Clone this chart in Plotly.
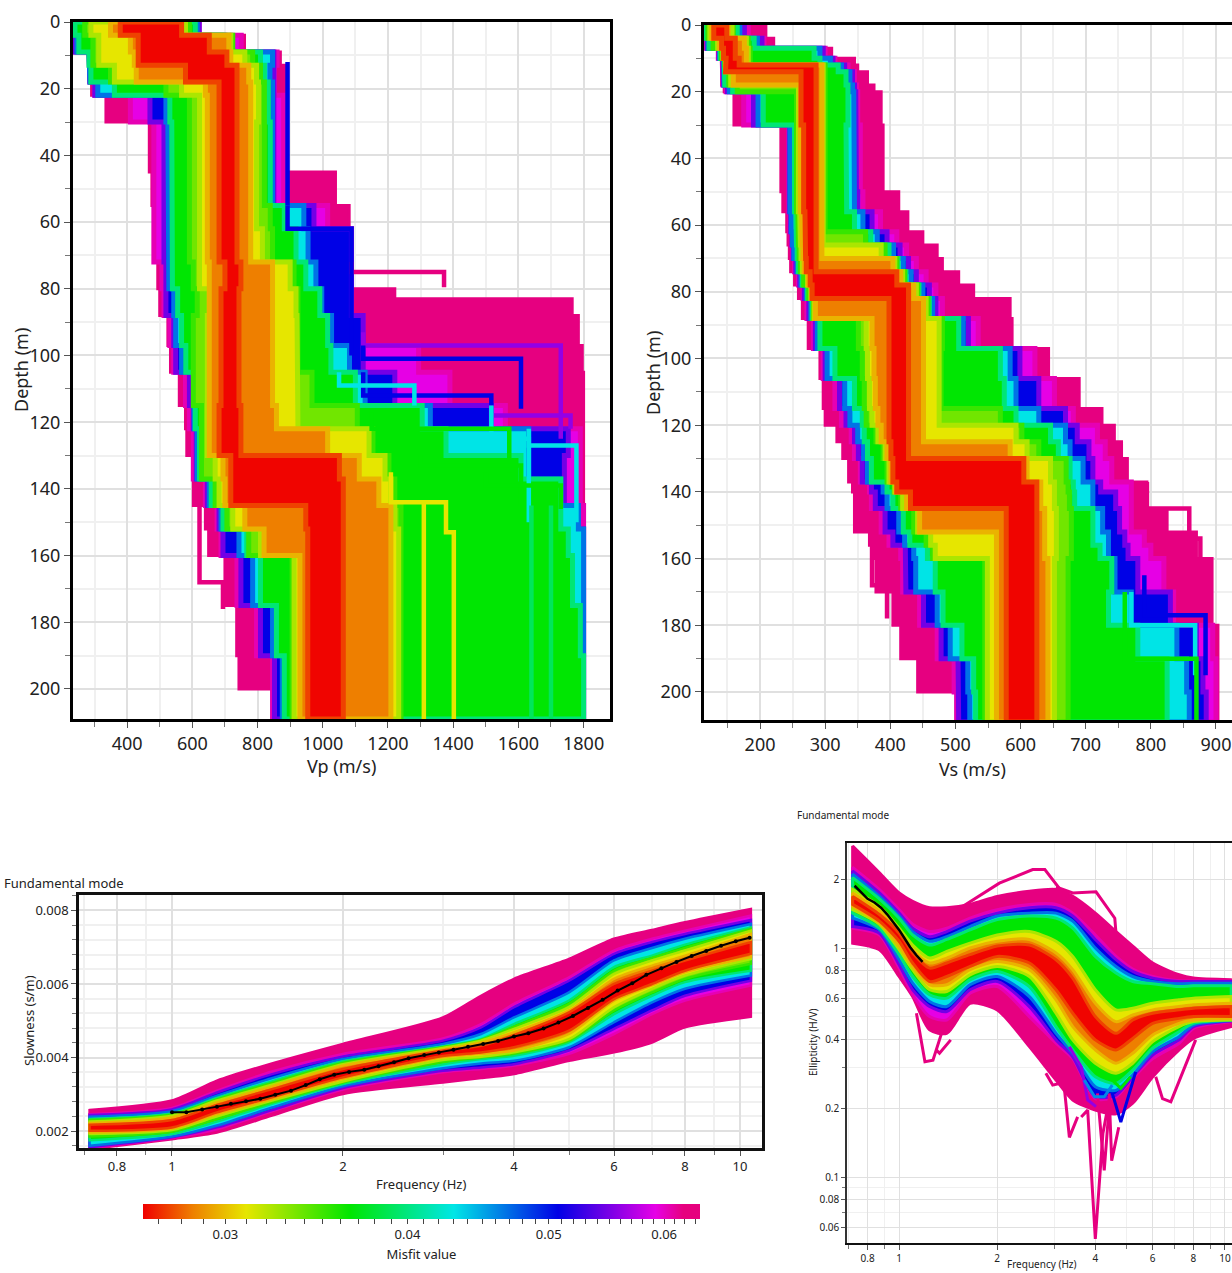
import math
import plotly.graph_objects as go

W, H = 1232, 1273
FONT = "Noto Sans"
BANDS = ["PINK", "MAG", "BLUE", "CYAN", "GREEN", "YG", "YELLOW", "ORANGE", "RED"]

# Misfit value carried by each colour band
BAND_MISFIT = {"PINK": 0.0618, "MAG": 0.0592, "BLUE": 0.0507, "CYAN": 0.0431, "GREEN": 0.0366,
               "YG": 0.0337, "YELLOW": 0.0310, "ORANGE": 0.0285, "RED": 0.0264}
MISFIT_LO, MISFIT_HI = 0.02634, 0.0635
MISFIT_TICKS = [0.03, 0.04, 0.05, 0.06]
COLOR_STOPS = [[0.0, "#f00000"], [0.09, "#ee8000"], [0.185, "#e6e600"], [0.372, "#00e600"],
               [0.558, "#00e6e6"], [0.745, "#0000e6"], [0.92, "#e600e6"], [0.97, "#e6007e"], [1.0, "#e6007e"]]

# ---------- Vp (m/s) envelope of each misfit band, per depth interval ----------
VP_DEPTH = [0, 4, 9, 13, 18, 22, 30, 45, 55, 62, 72, 80, 88, 97, 105, 115, 122, 130, 137, 145, 152, 160, 175, 190, 200, 209]
VP_L_PINK = [240, 250, 283, 283, 291, 335, 468, 476, 482, 485, 494, 500, 525, 533, 560, 579, 583, 603, 603, 640, 650, 700, 736, 743, 845]
VP_L_MAG = [236, 240, 283, 286, 301, 410, 482, 482, 482, 482, 507, 513, 531, 543, 579, 591, 603, 603, 640, 676, 688, 737, 797, 846, 846]
VP_L_BLUE = [236, 240, 283, 286, 301, 470, 513, 513, 513, 513, 519, 519, 543, 549, 591, 603, 612, 612, 646, 682, 694, 749, 809, 852, 852]
VP_L_CYAN = [238, 246, 283, 286, 310, 519, 525, 525, 525, 525, 528, 543, 549, 567, 603, 606, 615, 615, 652, 688, 743, 785, 846, 876, 876]
VP_L_GREEN = [240, 252, 283, 289, 361, 531, 537, 537, 537, 537, 539, 555, 567, 580, 609, 609, 622, 622, 658, 694, 767, 809, 858, 882, 882]
VP_L_YG = [270, 295, 295, 349, 519, 591, 591, 591, 591, 591, 603, 615, 603, 603, 603, 628, 628, 628, 670, 706, 773, 906, 906, 906, 906]
VP_L_YELLOW = [289, 313, 313, 361, 567, 622, 622, 622, 622, 622, 622, 652, 646, 646, 646, 646, 646, 670, 682, 724, 809, 912, 912, 912, 912]
VP_L_ORANGE = [349, 410, 422, 428, 640, 646, 646, 646, 646, 646, 652, 652, 652, 652, 652, 652, 652, 694, 700, 761, 820, 930, 930, 930, 930]
VP_L_RED = [379, 434, 434, 579, 682, 682, 682, 682, 682, 682, 700, 688, 688, 688, 688, 682, 682, 718, 718, 948, 954, 954, 954, 954, 954]
VP_R_RED = [567, 652, 706, 737, 734, 737, 737, 737, 737, 737, 749, 743, 743, 743, 743, 749, 749, 1051, 1063, 1063, 1063, 1063, 1063, 1063, 1063]
VP_R_ORANGE = [567, 712, 718, 773, 779, 779, 779, 779, 779, 779, 846, 846, 846, 846, 846, 858, 1015, 1112, 1172, 1209, 1209, 1209, 1209, 1209, 1209]
VP_R_YELLOW = [579, 718, 761, 797, 803, 803, 797, 797, 797, 815, 900, 918, 921, 921, 921, 924, 1142, 1191, 1209, 1221, 1233, 1233, 1233, 1233, 1233]
VP_R_YG = [591, 724, 785, 809, 821, 821, 821, 821, 839, 846, 912, 924, 924, 924, 967, 1106, 1154, 1203, 1221, 1240, 1240, 1240, 1240, 1240, 1240]
VP_R_GREEN = [609, 688, 809, 821, 833, 833, 839, 839, 882, 918, 948, 991, 1015, 1025, 1100, 1305, 1378, 1608, 1730, 1730, 1753, 1766, 1790, 1800, 1800]
VP_R_CYAN = [615, 695, 846, 838, 846, 846, 846, 846, 942, 955, 979, 997, 1027, 1082, 1130, 1330, 1632, 1632, 1730, 1784, 1800, 1800, 1800, 1800, 1800]
VP_R_BLUE = [621, 700, 850, 850, 850, 850, 850, 850, 973, 1088, 1088, 1088, 1124, 1124, 1221, 1517, 1753, 1741, 1741, 1784, 1800, 1800, 1800, 1800, 1800]
VP_R_MAG = [621, 750, 860, 852, 852, 880, 880, 880, 1015, 1088, 1088, 1088, 1124, 1294, 1390, 1560, 1790, 1790, 1790, 1800, 1800, 1800, 1800, 1800, 1800]
VP_R_PINK = [621, 760, 870, 892, 892, 892, 892, 1039, 1081, 1088, 1090, 1221, 1784, 1796, 1800, 1800, 1800, 1800, 1800, 1800, 1800, 1800, 1800, 1800, 1800]

# Pink block that starts part way through the 80-88 m interval
VP_PATCH_DEPTH = [83, 88]
VP_PATCH_LEFT = [1088]
VP_PATCH_RIGHT = [1765]

# Single outlying Vp models: (misfit, depth edges, velocities)
VP_MODELS = [
    (0.0618, [72, 75, 79.5], [1088, 1372]),
    (0.0618, [145, 168, 176], [622, 694]),
    (0.0507, [12, 55], [892]),
    (0.0507, [55, 62, 100], [892, 1088]),
    (0.0560, [93, 97, 125], [1124, 1730]),
    (0.0507, [97, 101, 116], [1124, 1608]),
    (0.0507, [105, 112, 118], [1124, 1517]),
    (0.0560, [115, 118, 122], [1517, 1760]),
    (0.0431, [105, 109, 115], [1050, 1281]),
    (0.0431, [115, 125, 150], [1517, 1632]),
    (0.0431, [122, 127, 150], [1632, 1778]),
    (0.0366, [117, 122, 135], [1150, 1572]),
    (0.0366, [130, 133, 145], [1300, 1608]),
    (0.0366, [135, 139, 146], [1500, 1730]),
    (0.0310, [135, 144, 153, 209], [1209, 1378, 1402]),
    (0.0310, [144, 209], [1310]),
    (0.0390, [145, 209], [1640]),
    (0.0390, [145, 209], [1700]),
]

# ---------- Vs (m/s) envelope of each misfit band, per depth interval ----------
VS_DEPTH = [0, 4, 7, 10, 12, 14, 18, 20, 30, 50, 56, 62, 66, 70, 74, 78, 82, 88, 97, 106, 115, 120, 125, 130, 137, 140, 145, 152, 156, 160, 170, 180, 190, 200, 209]
VS_L_PINK = [114, 117, 135, 141, 141, 141, 145, 160, 232, 235, 241, 243, 245, 247, 253, 259, 265, 274, 292, 297, 300, 318, 327, 336, 342, 345, 345, 368, 374, 378, 404, 416, 442, 501]
VS_L_MAG = [114, 118, 136, 142, 143, 143, 148, 175, 244, 244, 246, 248, 250, 253, 259, 266, 272, 282, 297, 315, 325, 340, 345, 354, 368, 371, 386, 398, 416, 419, 445, 472, 498, 502]
VS_L_BLUE = [115, 119, 137, 143, 144, 144, 150, 190, 245, 245, 247, 249, 251, 255, 261, 268, 275, 285, 300, 322, 332, 345, 351, 357, 371, 377, 392, 404, 423, 424, 451, 478, 504, 505]
VS_L_CYAN = [115, 120, 138, 144, 145, 145, 153, 197, 246, 246, 248, 250, 252, 257, 263, 271, 278, 288, 303, 330, 338, 350, 359, 365, 389, 395, 413, 422, 436, 439, 472, 492, 519, 522]
VS_L_GREEN = [116, 122, 139, 145, 146, 146, 158, 205, 253, 253, 255, 256, 257, 259, 265, 273, 280, 292, 315, 345, 357, 360, 365, 371, 395, 404, 420, 430, 457, 469, 481, 510, 528, 531]
VS_L_YG = [120, 128, 141, 146, 148, 152, 165, 256, 256, 256, 258, 259, 260, 262, 267, 275, 282, 351, 357, 360, 363, 378, 389, 395, 406, 416, 436, 455, 465, 545, 545, 545, 545, 545]
VS_L_YELLOW = [123, 135, 143, 147, 149, 155, 259, 259, 259, 259, 261, 262, 263, 265, 273, 278, 283, 363, 365, 368, 372, 381, 392, 398, 407, 419, 442, 462, 469, 549, 549, 549, 549, 549]
VS_L_ORANGE = [126, 138, 144, 147, 147, 159, 262, 262, 262, 262, 264, 265, 266, 268, 274, 279, 285, 372, 375, 377, 381, 386, 395, 401, 409, 425, 445, 563, 563, 563, 563, 563, 563, 563]
VS_L_RED = [129, 141, 144, 148, 147, 263, 263, 263, 267, 267, 269, 270, 270, 271, 277, 280, 398, 398, 398, 398, 398, 398, 401, 404, 410, 431, 578, 578, 578, 578, 578, 578, 578, 578]
VS_R_RED = [149, 162, 162, 168, 286, 286, 286, 286, 286, 286, 286, 286, 286, 286, 410, 428, 428, 428, 428, 428, 428, 428, 428, 605, 625, 625, 625, 625, 625, 625, 625, 625, 625, 625]
VS_R_ORANGE = [151, 176, 179, 179, 295, 295, 295, 295, 295, 295, 295, 295, 295, 404, 416, 436, 451, 451, 451, 451, 451, 451, 584, 610, 631, 631, 637, 637, 637, 642, 642, 642, 642, 642]
VS_R_YELLOW = [157, 179, 182, 182, 297, 297, 297, 297, 297, 297, 297, 297, 386, 407, 419, 440, 455, 475, 475, 475, 475, 593, 610, 646, 652, 652, 655, 655, 655, 652, 652, 652, 652, 652]
VS_R_YG = [159, 182, 185, 185, 300, 300, 300, 300, 300, 300, 300, 362, 392, 410, 422, 442, 458, 480, 478, 478, 569, 602, 628, 670, 673, 675, 678, 678, 678, 673, 673, 673, 673, 673]
VS_R_GREEN = [165, 191, 283, 292, 320, 332, 335, 335, 332, 333, 345, 370, 398, 412, 424, 444, 460, 505, 569, 575, 593, 646, 658, 676, 681, 683, 711, 711, 722, 740, 735, 780, 825, 825]
VS_R_CYAN = [169, 196, 292, 308, 325, 338, 342, 344, 344, 345, 358, 380, 405, 420, 432, 450, 465, 512, 584, 593, 628, 669, 676, 696, 711, 711, 726, 735, 735, 745, 770, 840, 855, 859]
VS_R_BLUE = [176, 203, 297, 312, 330, 342, 345, 347, 348, 350, 372, 395, 415, 428, 440, 460, 470, 520, 599, 628, 669, 687, 705, 711, 723, 746, 752, 760, 765, 780, 830, 870, 880, 885]
VS_R_MAG = [182, 206, 300, 315, 335, 345, 348, 350, 354, 358, 385, 410, 425, 440, 455, 470, 480, 535, 622, 652, 681, 718, 730, 740, 770, 770, 770, 790, 800, 820, 835, 895, 900, 900]
VS_R_PINK = [209, 221, 310, 345, 350, 365, 375, 386, 389, 413, 427, 450, 472, 480, 505, 528, 584, 587, 643, 690, 725, 744, 755, 764, 794, 794, 825, 870, 870, 894, 894, 903, 903, 903]

VS_MODELS = [
    (0.0618, [137, 145, 154, 163, 178], [794, 859, 876, 891]),
    (0.0618, [150, 168, 178], [372, 395]),
    (0.0507, [165, 177, 195], [790, 884]),
    (0.0431, [170, 180, 195], [770, 868]),
    (0.0366, [170, 190, 209], [760, 870]),
]

# ---------- Slowness (1e-3 s/m) band limits against frequency ----------
SL_FREQ = [0.716, 1, 1.2, 1.5, 2, 3, 3.5, 4, 5, 6, 7, 8, 10.45]
SL_U_PINK = [2.57, 2.83, 3.37, 3.84, 4.37, 5.09, 5.68, 6.14, 6.68, 7.23, 7.47, 7.68, 8.04]
SL_U_MAG = [2.46, 2.63, 3.10, 3.62, 4.10, 4.52, 4.91, 5.46, 6.18, 6.91, 7.23, 7.45, 7.86]
SL_U_BLUE = [2.44, 2.59, 3.05, 3.55, 4.03, 4.46, 4.82, 5.37, 6.09, 6.82, 7.14, 7.36, 7.74]
SL_U_CYAN = [2.39, 2.54, 2.96, 3.44, 3.96, 4.37, 4.64, 5.09, 5.77, 6.64, 6.98, 7.23, 7.63]
SL_U_GREEN = [2.33, 2.48, 2.90, 3.35, 3.90, 4.30, 4.50, 4.91, 5.55, 6.46, 6.77, 7.07, 7.54]
SL_U_YG = [2.30, 2.45, 2.86, 3.31, 3.86, 4.28, 4.48, 4.84, 5.46, 6.36, 6.71, 6.98, 7.50]
SL_U_YELLOW = [2.26, 2.42, 2.83, 3.26, 3.82, 4.26, 4.46, 4.78, 5.37, 6.27, 6.64, 6.91, 7.45]
SL_U_ORANGE = [2.22, 2.37, 2.78, 3.21, 3.78, 4.22, 4.41, 4.69, 5.28, 6.14, 6.50, 6.77, 7.36]
SL_U_RED = [2.17, 2.30, 2.71, 3.14, 3.69, 4.19, 4.32, 4.61, 5.23, 6.00, 6.36, 6.64, 7.14]
SL_D_RED = [2.01, 2.10, 2.51, 2.92, 3.46, 4.04, 4.14, 4.28, 4.73, 5.59, 6.00, 6.36, 6.82]
SL_D_ORANGE = [1.96, 2.07, 2.46, 2.87, 3.42, 4.01, 4.10, 4.19, 4.64, 5.55, 5.96, 6.32, 6.73]
SL_D_YELLOW = [1.92, 2.03, 2.40, 2.83, 3.35, 3.93, 4.02, 4.14, 4.50, 5.37, 5.87, 6.23, 6.68]
SL_D_YG = [1.85, 1.98, 2.33, 2.78, 3.32, 3.88, 4.00, 4.10, 4.46, 5.28, 5.77, 6.14, 6.55]
SL_D_GREEN = [1.75, 1.92, 2.26, 2.74, 3.28, 3.82, 3.96, 4.05, 4.41, 5.18, 5.68, 6.05, 6.36]
SL_D_CYAN = [1.60, 1.85, 2.15, 2.64, 3.22, 3.71, 3.84, 3.91, 4.28, 4.96, 5.50, 5.87, 6.23]
SL_D_BLUE = [1.56, 1.83, 2.10, 2.57, 3.17, 3.64, 3.73, 3.82, 4.19, 4.78, 5.28, 5.68, 6.09]
SL_D_MAG = [1.54, 1.81, 2.05, 2.54, 3.13, 3.60, 3.69, 3.78, 4.10, 4.64, 5.18, 5.55, 5.96]
SL_D_PINK = [1.51, 1.78, 1.96, 2.42, 3.01, 3.32, 3.44, 3.55, 3.91, 4.14, 4.41, 4.82, 5.11]

OBS_SL_FREQ = [1.00, 1.06, 1.13, 1.20, 1.27, 1.35, 1.43, 1.52, 1.62, 1.72, 1.82, 1.93, 2.05, 2.18, 2.31, 2.46, 2.61, 2.78, 2.95, 3.13,
               3.32, 3.53, 3.75, 4.00, 4.24, 4.51, 4.79, 5.08, 5.40, 5.73, 6.09, 6.46, 6.84, 7.27, 7.73, 8.22, 8.72, 9.26, 9.83, 10.40]
OBS_SL = [2.51, 2.51, 2.59, 2.66, 2.74, 2.81, 2.88, 2.99, 3.10, 3.25, 3.41, 3.53, 3.61, 3.67, 3.76, 3.87, 3.98, 4.07, 4.14, 4.21,
          4.29, 4.37, 4.45, 4.57, 4.66, 4.79, 4.95, 5.13, 5.35, 5.57, 5.82, 6.02, 6.25, 6.43, 6.60, 6.76, 6.90, 7.04, 7.16, 7.26]

# ---------- Ellipticity (H/V) band limits against frequency ----------
EL_FREQ = [0.72, 0.87, 1.0, 1.10, 1.24, 1.40, 1.65, 2.0, 2.51, 3.03, 3.41, 4.0, 4.63, 5.21, 6.0, 7.23, 8.0, 10.45]
EL_U_PINK = [2.79, 2.13, 1.74, 1.60, 1.50, 1.50, 1.55, 1.68, 1.77, 1.80, 1.68, 1.42, 1.18, 1.02, 0.860, 0.764, 0.739, 0.726]
EL_U_MAG = [2.25, 1.80, 1.47, 1.27, 1.18, 1.22, 1.35, 1.47, 1.55, 1.55, 1.42, 1.14, 0.919, 0.810, 0.751, 0.720, 0.718, 0.716]
EL_U_BLUE = [2.17, 1.74, 1.42, 1.22, 1.12, 1.18, 1.31, 1.42, 1.50, 1.50, 1.38, 1.09, 0.889, 0.790, 0.739, 0.714, 0.714, 0.714]
EL_U_CYAN = [2.10, 1.68, 1.38, 1.18, 1.07, 1.12, 1.24, 1.38, 1.42, 1.42, 1.31, 1.00, 0.831, 0.751, 0.714, 0.698, 0.702, 0.702]
EL_U_GREEN = [2.03, 1.64, 1.35, 1.14, 1.03, 1.09, 1.20, 1.33, 1.38, 1.35, 1.22, 0.919, 0.777, 0.714, 0.698, 0.679, 0.684, 0.684]
EL_U_YELLOW = [1.80, 1.52, 1.22, 1.03, 0.904, 0.967, 1.05, 1.14, 1.18, 1.07, 0.919, 0.657, 0.537, 0.546, 0.574, 0.594, 0.604, 0.614]
EL_U_ORANGE = [1.74, 1.45, 1.18, 0.983, 0.860, 0.904, 1.00, 1.07, 1.09, 0.951, 0.804, 0.574, 0.477, 0.510, 0.537, 0.555, 0.565, 0.574]
EL_U_RED = [1.68, 1.40, 1.16, 0.951, 0.817, 0.860, 0.935, 1.02, 1.03, 0.889, 0.739, 0.502, 0.424, 0.485, 0.519, 0.537, 0.546, 0.555]
EL_D_RED = [1.55, 1.31, 1.07, 0.860, 0.714, 0.751, 0.831, 0.919, 0.860, 0.657, 0.519, 0.397, 0.359, 0.403, 0.469, 0.493, 0.502, 0.502]
EL_D_ORANGE = [1.52, 1.29, 1.02, 0.831, 0.691, 0.691, 0.804, 0.874, 0.804, 0.594, 0.454, 0.359, 0.314, 0.347, 0.417, 0.469, 0.485, 0.493]
EL_D_YELLOW = [1.47, 1.27, 0.983, 0.804, 0.657, 0.646, 0.764, 0.831, 0.751, 0.519, 0.397, 0.314, 0.284, 0.314, 0.390, 0.454, 0.477, 0.485]
EL_D_GREEN = [1.42, 1.22, 0.935, 0.751, 0.625, 0.604, 0.726, 0.790, 0.679, 0.454, 0.359, 0.274, 0.256, 0.293, 0.365, 0.431, 0.469, 0.485]
EL_D_CYAN = [1.35, 1.20, 0.889, 0.702, 0.584, 0.555, 0.691, 0.751, 0.614, 0.424, 0.347, 0.248, 0.239, 0.279, 0.353, 0.410, 0.461, 0.482]
EL_D_BLUE = [1.24, 1.16, 0.845, 0.657, 0.555, 0.528, 0.657, 0.714, 0.555, 0.397, 0.335, 0.224, 0.228, 0.274, 0.341, 0.397, 0.454, 0.480]
EL_D_MAG = [1.22, 1.14, 0.817, 0.625, 0.502, 0.485, 0.635, 0.679, 0.502, 0.384, 0.329, 0.220, 0.224, 0.270, 0.329, 0.384, 0.446, 0.476]
EL_D_PINK = [1.05, 0.983, 0.751, 0.614, 0.439, 0.424, 0.574, 0.537, 0.371, 0.265, 0.217, 0.196, 0.189, 0.210, 0.274, 0.359, 0.403, 0.454]

# Single outlying ellipticity curves: (misfit, frequencies, H/V)
EL_MODELS = [
    (0.0618, [1.57, 2.03, 2.57, 2.80, 3.18, 3.41], [1.52, 1.92, 2.20, 2.20, 1.74, 1.63]),
    (0.0618, [3.03, 3.41, 4.02, 4.59, 4.63], [1.85, 1.74, 1.76, 1.35, 1.16]),
    (0.0618, [3.62, 3.79, 4.0, 4.22, 4.41], [0.183, 0.196, 0.0537, 0.155, 0.217]),
    (0.0618, [3.21, 3.33, 3.53], [0.248, 0.149, 0.183]),
    (0.0618, [4.06, 4.26, 4.41], [0.232, 0.107, 0.203]),
    (0.0618, [4.41, 4.49, 4.72], [0.232, 0.118, 0.165]),
    (0.0618, [2.82, 2.96, 3.10], [0.284, 0.252, 0.256]),
    (0.0618, [1.13, 1.20, 1.27, 1.36], [0.519, 0.319, 0.324, 0.439]),
    (0.0618, [1.30, 1.33, 1.44], [0.359, 0.347, 0.397]),
    (0.0618, [6.13, 6.43, 6.82, 8.13], [0.274, 0.220, 0.213, 0.397]),
    (0.0560, [3.33, 3.62, 3.79, 4.02], [0.371, 0.303, 0.217, 0.203]),
    (0.0507, [4.51, 4.79, 5.32], [0.232, 0.174, 0.288]),
    (0.0460, [3.70, 3.98, 4.26, 4.51], [0.265, 0.224, 0.224, 0.252]),
    (0.0366, [4.51, 4.79, 5.13], [0.265, 0.244, 0.274]),
]
OBS_EL_FREQ = [0.73, 0.76, 0.80, 0.84, 0.88, 0.92, 0.96, 1.00, 1.04, 1.08, 1.13, 1.18]
OBS_EL = [1.87, 1.76, 1.64, 1.58, 1.50, 1.40, 1.30, 1.20, 1.10, 1.01, 0.93, 0.87]

LOG_LO, LOG_HI = math.log10(MISFIT_LO), math.log10(MISFIT_HI)


def misfit_color(m):
    f = max(0.0, min(1.0, (math.log10(m) - LOG_LO) / (LOG_HI - LOG_LO)))
    for (a, ca), (b, cb) in zip(COLOR_STOPS, COLOR_STOPS[1:]):
        if a <= f <= b:
            t = (f - a) / (b - a)
            pa = [int(ca[i:i + 2], 16) for i in (1, 3, 5)]
            pb = [int(cb[i:i + 2], 16) for i in (1, 3, 5)]
            return "rgb(%d,%d,%d)" % tuple(round(u + (v - u) * t) for u, v in zip(pa, pb))
    return COLOR_STOPS[-1][1]


def band_colors(name):
    """Fill colour of a band, and the in-between colour of its edge that softens the step to the next band out."""
    m = BAND_MISFIT[name]
    i = BANDS.index(name)
    outer = BAND_MISFIT[BANDS[i - 1]] if i else m
    return misfit_color(m), misfit_color(math.sqrt(m * outer))


def stairs(edges, values):
    xs, ys = [], []
    for i, v in enumerate(values):
        xs += [v, v]
        ys += [edges[i], edges[i + 1]]
    return xs, ys


fig = go.Figure()
table = globals()


def add_block(edges, left, right, fill, edge, width, xa, ya):
    lx, ly = stairs(edges, left)
    rx, ry = stairs(edges, right)
    fig.add_trace(go.Scatter(x=lx + rx[::-1] + lx[:1], y=ly + ry[::-1] + ly[:1], mode="lines", fill="toself",
                             fillcolor=fill, line=dict(color=edge, width=width), xaxis=xa, yaxis=ya,
                             hoverinfo="skip", showlegend=False))


def add_profile_bands(prefix, edges, xa, ya):
    for b in BANDS:
        fill, edge = band_colors(b)
        add_block(edges, table[f"{prefix}_L_{b}"], table[f"{prefix}_R_{b}"], fill, edge, 5 if b != "PINK" else 3, xa, ya)
        if prefix == "VP" and b == "PINK":
            add_block(VP_PATCH_DEPTH, VP_PATCH_LEFT, VP_PATCH_RIGHT, fill, edge, 3, xa, ya)


def add_profile_models(models, xa, ya):
    for m, edges, vals in models:
        x, y = stairs(edges, vals)
        fig.add_trace(go.Scatter(x=x, y=y, mode="lines", line=dict(color=misfit_color(m), width=4.5),
                                 xaxis=xa, yaxis=ya, hoverinfo="skip", showlegend=False))


def add_curve_bands(prefix, freq, names, xa, ya, scale, width):
    for b in names:
        up = [v * scale for v in table[f"{prefix}_U_{b}"]]
        dn = [v * scale for v in table[f"{prefix}_D_{b}"]]
        fill, edge = band_colors(b)
        # corner points are repeated so the smoothing keeps the band ends square
        fx = freq[:1] * 2 + freq + freq[-1:] * 3 + freq[::-1] + freq[:1] * 3
        fy = up[:1] * 2 + up + up[-1:] * 2 + dn[-1:] + dn[::-1] + dn[:1] * 2 + up[:1]
        fig.add_trace(go.Scatter(x=fx, y=fy, mode="lines", fill="toself",
                                 fillcolor=fill, line=dict(color=edge, width=width, shape="spline", smoothing=0.7),
                                 xaxis=xa, yaxis=ya, hoverinfo="skip", showlegend=False))


add_profile_bands("VP", VP_DEPTH, "x", "y")
add_profile_models(VP_MODELS, "x", "y")
add_profile_bands("VS", VS_DEPTH, "x2", "y2")
add_profile_models(VS_MODELS, "x2", "y2")
add_curve_bands("SL", SL_FREQ, BANDS, "x3", "y3", 0.001, 2.5)
fig.add_trace(go.Scatter(x=OBS_SL_FREQ, y=[v * 0.001 for v in OBS_SL], mode="lines+markers",
                         line=dict(color="black", width=2), marker=dict(color="black", size=4),
                         xaxis="x3", yaxis="y3", hoverinfo="skip", showlegend=False))
add_curve_bands("EL", EL_FREQ, [b for b in BANDS if b != "YG"], "x4", "y4", 1, 3)
for m, fx, fy in EL_MODELS:
    fig.add_trace(go.Scatter(x=fx, y=fy, mode="lines", line=dict(color=misfit_color(m), width=3),
                             xaxis="x4", yaxis="y4", hoverinfo="skip", showlegend=False))
fig.add_trace(go.Scatter(x=OBS_EL_FREQ, y=OBS_EL, mode="lines", line=dict(color="black", width=2.5),
                         xaxis="x4", yaxis="y4", hoverinfo="skip", showlegend=False))

# Hidden marker that carries the shared misfit colour bar
minor_cb = [m / 1000 for m in range(27, 64)]
fig.add_trace(go.Scatter(
    x=[1], y=[0.005], mode="markers", xaxis="x3", yaxis="y3", hoverinfo="skip", showlegend=False,
    marker=dict(size=0.1, opacity=0, color=[math.log10(0.04)], cmin=LOG_LO, cmax=LOG_HI, colorscale=COLOR_STOPS, showscale=True,
                colorbar=dict(orientation="h", x=143 / W, xanchor="left", y=1 - 1204 / H, yanchor="top",
                              len=557 / W, lenmode="fraction", thickness=15, thicknessmode="pixels",
                              xpad=0, ypad=0, outlinewidth=0, ticks="outside", ticklen=5, tickcolor="#444",
                              tickvals=[math.log10(m) for m in minor_cb],
                              ticktext=[str(m) if m in MISFIT_TICKS else "" for m in minor_cb],
                              tickfont=dict(family=FONT, size=13, color="#222"),
                              title=dict(text="Misfit value", side="bottom", font=dict(family=FONT, size=13, color="#222"))))))


def dom_x(a, b):
    return [a / W, min(1, b / W)]


def dom_y(top, bottom):
    return [1 - bottom / H, 1 - top / H]


GRID_MAJ, GRID_MIN = "#e0e0e0", "#f0f0f0"


def profile_x(left, right, rng, dtick, minor):
    return dict(domain=dom_x(left, right), range=rng, dtick=dtick, tick0=0, ticks="outside", ticklen=6, tickwidth=1,
                tickfont=dict(family=FONT, size=18, color="#222"), tickcolor="#555", showline=True, linecolor="black",
                linewidth=3, mirror=True, showgrid=True, gridcolor=GRID_MAJ, gridwidth=2, zeroline=False,
                minor=dict(dtick=minor, tick0=0, ticks="outside", ticklen=5, tickcolor="#777", showgrid=True, gridcolor=GRID_MIN, gridwidth=1.5))


def profile_y(top, bottom, rng, anchor, mirror):
    return dict(domain=dom_y(top, bottom), range=rng, dtick=20, tick0=0, ticks="outside", ticklen=6, tickwidth=1, anchor=anchor,
                tickfont=dict(family=FONT, size=18, color="#222"), tickcolor="#555", showline=True, linecolor="black",
                linewidth=3, mirror=mirror, showgrid=True, gridcolor=GRID_MAJ, gridwidth=2, zeroline=False,
                minor=dict(dtick=10, tick0=0, ticks="outside", ticklen=5, tickcolor="#777", showgrid=True, gridcolor=GRID_MIN, gridwidth=1.5))


def freq_x(left, right, rng, size, anchor, lw, grid):
    return dict(domain=dom_x(left, right), type="log", range=rng, tickvals=[0.8, 1, 2, 4, 6, 8, 10],
                ticktext=["0.8", "1", "2", "4", "6", "8", "10"], ticks="outside", ticklen=5, anchor=anchor,
                tickfont=dict(family=FONT, size=size, color="#222"), tickcolor="#555", showline=True, linecolor="#111",
                linewidth=lw, mirror=True, showgrid=True, gridcolor=GRID_MAJ, gridwidth=grid, zeroline=False,
                minor=dict(tickvals=[0.7, 0.9, 3, 5, 7, 9], ticks="outside", ticklen=4, tickcolor="#777", showgrid=True, gridcolor=GRID_MIN))


fig.update_layout(
    width=W, height=H, autosize=False, margin=dict(l=0, r=0, t=0, b=0, autoexpand=False), paper_bgcolor="white", plot_bgcolor="white", showlegend=False,
    xaxis=dict(profile_x(73, 610, [234, 1881], 200, 100), anchor="y"),
    yaxis=profile_y(22, 719, [209, 0], "x", True),
    xaxis2=dict(profile_x(704, 1232, [114, 924.6], 100, 50), anchor="y2", mirror=True),
    yaxis2=profile_y(25, 720, [208.4, 0], "x2", False),
    xaxis3=freq_x(79, 762, [-0.1637, 1.0387], 13, "y3", 2.5, 1.5),
    yaxis3=dict(domain=dom_y(895, 1148), range=[0.00154, 0.00842], dtick=0.002, tick0=0, tickformat=".3f", ticks="outside", ticklen=5, anchor="x3",
                tickfont=dict(family=FONT, size=13, color="#222"), tickcolor="#555", showline=True, linecolor="#111", linewidth=2.5, mirror=True,
                showgrid=True, gridcolor=GRID_MAJ, gridwidth=1.5, zeroline=False,
                minor=dict(dtick=0.0004, tick0=0, ticks="outside", ticklen=4, tickcolor="#777", showgrid=True, gridcolor=GRID_MIN)),
    xaxis4=freq_x(847, 1232, [-0.16, 1.0215], 10, "y4", 1.5, 1),
    yaxis4=dict(domain=dom_y(843, 1243), type="log", range=[-1.288, 0.4585], tickvals=[0.06, 0.08, 0.1, 0.2, 0.4, 0.6, 0.8, 1, 2],
                ticktext=["0.06", "0.08", "0.1", "0.2", "0.4", "0.6", "0.8", "1", "2"], ticks="outside", ticklen=4, anchor="x4",
                tickfont=dict(family=FONT, size=10, color="#222"), tickcolor="#555", showline=True, linecolor="#333", linewidth=1.5,
                showgrid=True, gridcolor=GRID_MAJ, gridwidth=1, zeroline=False,
                minor=dict(tickvals=[0.07, 0.09, 0.3, 0.5, 0.7, 0.9], ticks="outside", ticklen=3, tickcolor="#777", showgrid=True, gridcolor=GRID_MIN)),
)


def label(text, px, py, size, angle=0, anchor="center"):
    fig.add_annotation(text=text, x=px / W, y=1 - py / H, xref="paper", yref="paper", showarrow=False, textangle=angle,
                       xanchor=anchor, yanchor="middle", font=dict(family=FONT, size=size, color="#222"))


label("Depth (m)", 21, 370, 18, -90)
label("Vp (m/s)", 341, 766, 18)
label("Depth (m)", 653, 373, 18, -90)
label("Vs (m/s)", 972, 769, 18)
label("Fundamental mode", 2, 883, 13, 0, "left")
label("Frequency (Hz)", 421, 1184, 13)
label("Slowness (s/m)", 29, 1021, 13, -90)
label("Fundamental mode", 795, 815, 10, 0, "left")
label("Frequency (Hz)", 1042, 1264, 10)
label("Ellipticity (H/V)", 813, 1043, 10, -90)

fig.write_html("out.html", config={"displayModeBar": False},
               post_script="document.body.style.margin='0';document.body.style.overflow='hidden';")
